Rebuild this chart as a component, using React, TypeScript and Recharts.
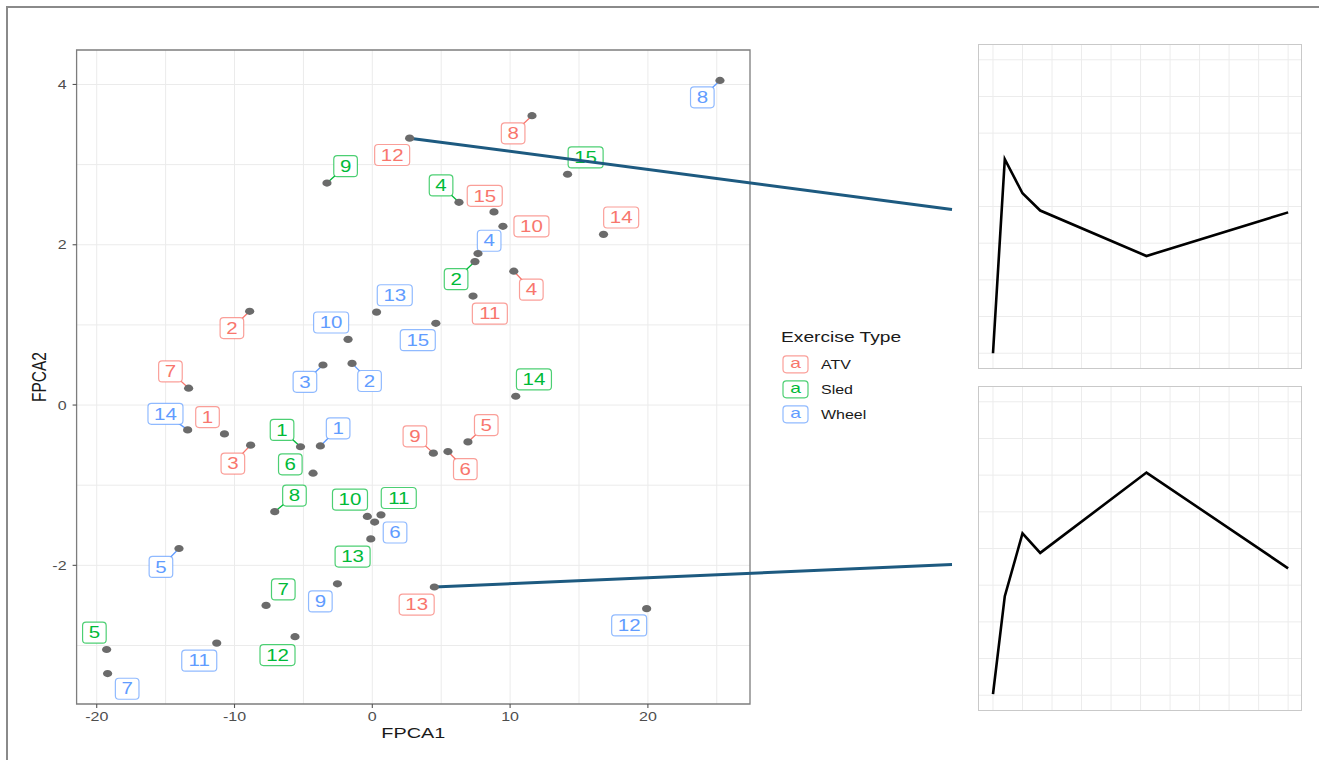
import React from 'react';
import {
  ScatterChart,
  Scatter,
  XAxis,
  YAxis,
  CartesianGrid,
  ReferenceLine,
  ReferenceArea,
  Legend,
  LineChart,
  Line,
} from 'recharts';

// ---- FPCA scores by subject, one set of arrays per exercise type ----
const atvIds = [1, 2, 3, 4, 5, 6, 7, 8, 9, 10, 11, 12, 13, 14, 15];
const atvFPCA1 = [-10.73, -8.9, -8.83, 10.27, 6.94, 5.49, -13.33, 11.59, 4.43, 9.48, 7.31, 2.71, 4.5, 16.78, 8.83];
const atvFPCA2 = [-0.36, 1.17, -0.5, 1.67, -0.46, -0.58, 0.21, 3.61, -0.6, 2.23, 1.36, 3.33, -2.27, 2.13, 2.41];

const sledIds = [1, 2, 4, 5, 6, 7, 8, 9, 10, 11, 12, 13, 14, 15];
const sledFPCA1 = [-5.21, 7.45, 6.29, -19.28, -4.3, -7.71, -7.08, -3.29, -0.36, 0.63, -5.61, -0.11, 10.41, 14.17];
const sledFPCA2 = [-0.52, 1.79, 2.53, -3.05, -0.85, -2.5, -1.33, 2.77, -1.39, -1.37, -2.89, -1.67, 0.11, 2.88];

const wheelIds = [1, 2, 3, 4, 5, 6, 7, 8, 9, 10, 11, 12, 13, 14, 15];
const wheelFPCA1 = [-3.77, -1.47, -3.58, 7.67, -14.03, 0.17, -19.21, 25.23, -2.53, -1.76, -11.29, 19.91, 0.31, -13.4, 4.61];
const wheelFPCA2 = [-0.51, 0.52, 0.5, 1.89, -1.79, -1.46, -3.35, 4.05, -2.23, 0.82, -2.97, -2.54, 1.16, -0.31, 1.02];

// ---- repelled label placement (FPCA units) and which labels get a leader ----
const atvLabelFPCA1 = [-11.96, -10.19, -10.12, 11.54, 8.27, 6.75, -14.65, 10.22, 3.09, 11.55, 8.53, 1.44, 3.22, 18.06, 8.16];
const atvLabelFPCA2 = [-0.15, 0.96, -0.73, 1.44, -0.25, -0.8, 0.42, 3.39, -0.39, 2.23, 1.14, 3.12, -2.49, 2.34, 2.61];
const sledLabelFPCA1 = [-6.55, 6.08, 4.99, -20.17, -5.95, -6.46, -5.65, -1.94, -1.62, 1.92, -6.88, -1.43, 11.73, 15.48];
const sledLabelFPCA2 = [-0.31, 1.57, 2.74, -2.84, -0.74, -2.3, -1.13, 2.98, -1.18, -1.16, -3.12, -1.89, 0.32, 3.09];
const wheelLabelFPCA1 = [-2.48, -0.2, -4.89, 8.48, -15.34, 1.65, -17.79, 23.95, -3.77, -2.99, -12.56, 18.64, 1.63, -15.01, 3.3];
const wheelLabelFPCA2 = [-0.29, 0.3, 0.29, 2.05, -2.02, -1.59, -3.54, 3.84, -2.45, 1.03, -3.19, -2.75, 1.37, -0.11, 0.81];

const atvLeaders = [2, 3, 4, 5, 6, 7, 8, 9];
const sledLeaders = [1, 2, 4, 8, 9];
const wheelLeaders = [1, 2, 3, 5, 8, 14];

// ---- axis ticks ----
const xTicks = [-20, -10, 0, 10, 20];
const yTicks = [-2, 0, 2, 4];
const xGrid = [-20, -15, -10, -5, 0, 5, 10, 15, 20, 25];
const yGrid = [-3, -2, -1, 0, 1, 2, 3, 4];

// ---- reconstructed curves of the two highlighted ATV subjects ----
const curveTime = [0, 0.4, 1, 1.6, 5.2, 10];
const curveAtv12 = [0, 5.29, 4.36, 3.89, 2.65, 3.84];
const curveAtv13 = [0.03, 2.7, 4.41, 3.88, 6.07, 3.46];
const insetXGrid = [0, 1, 2, 3, 4, 5, 6, 7, 8, 9, 10];
const insetYGrid = [0, 1, 2, 3, 4, 5, 6, 7, 8];

// where the call-out lines meet the inset panels, in FPCA units
const calloutTop = { x: 42.07, y: 2.44 };
const calloutBottom = { x: 42.07, y: -1.99 };
const highlightTop = 12; // ATV subject shown in the upper panel
const highlightBottom = 13; // ATV subject shown in the lower panel

// ---- styling ----
const FONT = '"Liberation Sans", Arial, Helvetica, sans-serif';
const STRETCH = 1.28;
const X_DOMAIN: [number, number] = [-21.46, 27.41];
const Y_DOMAIN: [number, number] = [-3.73, 4.43];

type Group = {
  name: string;
  color: string;
  ids: number[];
  fpca1: number[];
  fpca2: number[];
  labelFpca1: number[];
  labelFpca2: number[];
  leaders: number[];
};

const groups: Group[] = [
  { name: 'ATV', color: '#F8766D', ids: atvIds, fpca1: atvFPCA1, fpca2: atvFPCA2, labelFpca1: atvLabelFPCA1, labelFpca2: atvLabelFPCA2, leaders: atvLeaders },
  { name: 'Sled', color: '#00BA38', ids: sledIds, fpca1: sledFPCA1, fpca2: sledFPCA2, labelFpca1: sledLabelFPCA1, labelFpca2: sledLabelFPCA2, leaders: sledLeaders },
  { name: 'Wheel', color: '#619CFF', ids: wheelIds, fpca1: wheelFPCA1, fpca2: wheelFPCA2, labelFpca1: wheelLabelFPCA1, labelFpca2: wheelLabelFPCA2, leaders: wheelLeaders },
];

const pointRows = (g: Group) => g.ids.map((id, i) => ({ id, x: g.fpca1[i], y: g.fpca2[i] }));
const labelRows = (g: Group) => g.ids.map((id, i) => ({ id, x: g.labelFpca1[i], y: g.labelFpca2[i] }));

const atvPoint = (id: number) => {
  const i = atvIds.indexOf(id);
  return { x: atvFPCA1[i], y: atvFPCA2[i] };
};

// grey observation marker
const PointShape = (props: any) => {
  const { cx, cy } = props;
  if (cx == null || cy == null) return null;
  return <ellipse cx={cx} cy={cy} rx={4.6} ry={3.6} fill="#6b6b6b" />;
};

// boxed subject label in the exercise colour
const makeLabelShape = (color: string) => (props: any) => {
  const { cx, cy, payload } = props;
  if (cx == null || cy == null) return null;
  const txt = String(payload.id);
  const w = txt.length * 11.4 + 12.2;
  const h = 21;
  return (
    <g>
      <rect x={cx - w / 2} y={cy - h / 2} width={w} height={h} rx={3.5} ry={3.5} fill="#ffffff" stroke={color} strokeOpacity={0.7} strokeWidth={1.2} />
      <text
        transform={`translate(${cx},${cy + 5.7}) scale(${STRETCH},1)`}
        textAnchor="middle"
        fontSize={16}
        fontFamily={FONT}
        fill={color}
      >
        {txt}
      </text>
    </g>
  );
};

const XTick = (props: any) => {
  const { x, y, payload } = props;
  return (
    <text transform={`translate(${x},${y + 11}) scale(${STRETCH},1)`} textAnchor="middle" fontSize={12.5} fontFamily={FONT} fill="#4d4d4d">
      {payload.value}
    </text>
  );
};

const YTick = (props: any) => {
  const { x, y, payload } = props;
  return (
    <text transform={`translate(${x - 4},${y + 4.5}) scale(${STRETCH},1)`} textAnchor="end" fontSize={12.5} fontFamily={FONT} fill="#4d4d4d">
      {payload.value}
    </text>
  );
};

const XTitle = (props: any) => {
  const vb = props.viewBox || {};
  return (
    <text transform={`translate(${vb.x + vb.width / 2},${vb.y + 34}) scale(${STRETCH},1)`} textAnchor="middle" fontSize={15.5} fontFamily={FONT} fill="#1a1a1a">
      FPCA1
    </text>
  );
};

const YTitle = (props: any) => {
  const vb = props.viewBox || {};
  return (
    <text
      transform={`translate(${vb.x + 22.5},${vb.y + vb.height / 2}) rotate(-90) scale(1,${STRETCH})`}
      textAnchor="middle"
      dominantBaseline="central"
      fontSize={15.5}
      fontFamily={FONT}
      fill="#1a1a1a"
    >
      FPCA2
    </text>
  );
};

const LegendBox = () => (
  <svg width={170} height={110} style={{ display: 'block', overflow: 'visible' }}>
    <text transform={`translate(5,20) scale(${STRETCH},1)`} fontSize={15} fontFamily={FONT} fill="#1a1a1a">
      Exercise Type
    </text>
    {groups.map((g, i) => {
      const cy = 42.3 + i * 25;
      return (
        <g key={g.name}>
          <rect x={7} y={cy - 8.5} width={25} height={17} rx={3.5} ry={3.5} fill="#fff" stroke={g.color} strokeOpacity={0.7} strokeWidth={1.2} />
          <text transform={`translate(19.5,${cy + 4}) scale(${STRETCH},1)`} textAnchor="middle" fontSize={15} fontFamily={FONT} fill={g.color}>
            a
          </text>
          <text transform={`translate(45,${cy + 4.5}) scale(${STRETCH},1)`} fontSize={12.5} fontFamily={FONT} fill="#1a1a1a">
            {g.name}
          </text>
        </g>
      );
    })}
  </svg>
);

const INSET_X: [number, number] = [-0.508, 10.47];
const INSET_Y: [number, number] = [-0.43, 8.43];

const CurvePanel = ({ values, left, top }: { values: number[]; left: number; top: number }) => {
  const rows = curveTime.map((t, i) => ({ t, v: values[i] }));
  return (
    <>
      <div style={{ position: 'absolute', left, top }}>
        <LineChart width={324} height={325} data={rows} margin={{ top: 0, right: 0, bottom: 0, left: 0 }}>
          <XAxis dataKey="t" type="number" domain={INSET_X} allowDataOverflow hide />
          <YAxis type="number" domain={INSET_Y} allowDataOverflow hide />
          <CartesianGrid stroke="#ececec" strokeWidth={1} horizontalValues={insetYGrid} verticalValues={insetXGrid} />
          <Line dataKey="v" type="linear" stroke="#000" strokeWidth={2.6} dot={false} isAnimationActive={false} />
        </LineChart>
      </div>
      <div
        style={{
          position: 'absolute',
          left,
          top,
          width: 324,
          height: 325,
          boxSizing: 'border-box',
          border: '1px solid #c9c9c9',
          pointerEvents: 'none',
        }}
      />
    </>
  );
};

export default function App() {
  const p12 = atvPoint(highlightTop);
  const p13 = atvPoint(highlightBottom);
  return (
    <div style={{ position: 'absolute', left: 0, top: 0, width: 1319, height: 760, overflow: 'hidden', background: '#fff', fontFamily: FONT }}>
      <div style={{ position: 'absolute', left: 6, top: 6, width: 1330, height: 770, borderTop: '2px solid #8a8a8a', borderLeft: '2px solid #8a8a8a' }} />
      <div style={{ position: 'absolute', left: 0, top: 0 }}>
        <ScatterChart width={960} height={760} margin={{ top: 50, right: 210, bottom: 26, left: 16.6 }}>
          <CartesianGrid stroke="#ebebeb" strokeWidth={1} horizontalValues={yGrid} verticalValues={xGrid} />
          <XAxis
            dataKey="x"
            type="number"
            domain={X_DOMAIN}
            allowDataOverflow
            ticks={xTicks}
            height={30}
            axisLine={false}
            tickLine={{ stroke: '#555', strokeWidth: 1.1 }}
            tickSize={4}
            tick={<XTick />}
            label={<XTitle />}
          />
          <YAxis
            dataKey="y"
            type="number"
            domain={Y_DOMAIN}
            allowDataOverflow
            ticks={yTicks}
            width={60}
            axisLine={false}
            tickLine={{ stroke: '#555', strokeWidth: 1.1 }}
            tickSize={4}
            tick={<YTick />}
            label={<YTitle />}
          />
          <ReferenceArea x1={X_DOMAIN[0]} x2={X_DOMAIN[1]} y1={Y_DOMAIN[0]} y2={Y_DOMAIN[1]} fill="none" stroke="#7d7d7d" strokeWidth={1.3} ifOverflow="visible" />
          {groups.flatMap((g) =>
            g.leaders.map((id) => {
              const i = g.ids.indexOf(id);
              return (
                <ReferenceLine
                  key={`${g.name}-lead-${id}`}
                  segment={[
                    { x: g.fpca1[i], y: g.fpca2[i] },
                    { x: g.labelFpca1[i], y: g.labelFpca2[i] },
                  ]}
                  stroke={g.color}
                  strokeWidth={1.3}
                  zIndex={610}
                />
              );
            })
          )}
          {groups.map((g) => (
            <Scatter
              key={`${g.name}-labels`}
              name={`${g.name} labels`}
              data={labelRows(g)}
              shape={makeLabelShape(g.color)}
              isAnimationActive={false}
              legendType="none"
              zIndex={620}
            />
          ))}
          <ReferenceLine segment={[p12, calloutTop]} stroke="#1d5a80" strokeWidth={3} ifOverflow="visible" zIndex={630} />
          <ReferenceLine segment={[p13, calloutBottom]} stroke="#1d5a80" strokeWidth={3} ifOverflow="visible" zIndex={630} />
          {groups.map((g) => (
            <Scatter key={g.name} name={g.name} data={pointRows(g)} shape={PointShape} isAnimationActive={false} zIndex={640} />
          ))}
          <Legend layout="vertical" align="center" verticalAlign="middle" content={<LegendBox />} wrapperStyle={{ left: 776, top: 322, width: 170 }} />
        </ScatterChart>
      </div>
      <CurvePanel values={curveAtv12} left={978} top={44} />
      <CurvePanel values={curveAtv13} left={978} top={385.7} />
    </div>
  );
}
